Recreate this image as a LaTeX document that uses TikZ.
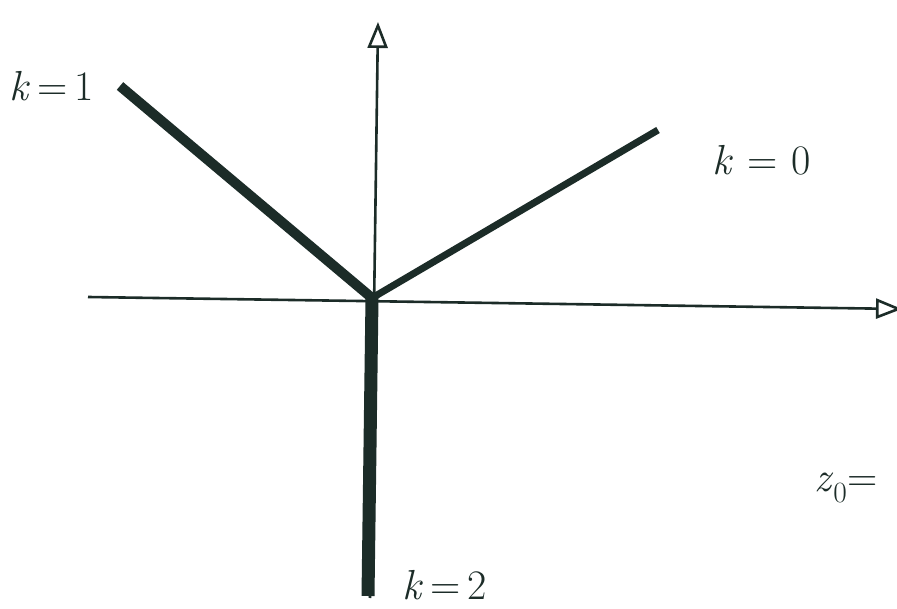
\documentclass[tikz,border=0pt]{standalone}
\usepackage{fontspec}
\usepackage{tikz}
\usetikzlibrary{arrows.meta,positioning,calc}
\definecolor{ink}{RGB}{28,44,40}
\tikzset{
  axis/.style ={line width=2.6pt,draw=ink,-{Triangle[open,length=26pt,width=20pt,line width=2.6pt]}},
  ray/.style  ={line width=9pt,draw=ink,line cap=butt},
  lbl/.style  ={text=ink,inner sep=0pt,font=\fontsize{42}{50}\selectfont},
}
\newcommand{\kk}{\textit{k}}
\begin{document}
\begin{tikzpicture}[x=1pt,y=-1pt]
\useasboundingbox[fill=white] (0,0) rectangle (897,609);
\coordinate (O) at (372,298);
\coordinate (xl) at (88,297);
\coordinate (xr) at (902,309);
\coordinate (yb) at (370,598);
\coordinate (yt) at (378,22);
\coordinate (e1) at (120,86);
\coordinate (e0) at (658,130);
\coordinate (e2) at (368,596);
\draw[axis](xl)--(xr);
\draw[axis](yb)--(yt);
\draw[ray,line width=10pt](O)--(e1);
\draw[ray,line width=7pt](O)--(e0);
\draw[ray,line width=13pt](O)--(e2);
\node[lbl] (k1) at (52,86) {\kk\,=\,1};
\node[lbl] (k0) at (762,160) {\kk\,\,=\,\,0};
\node[lbl] (k2) at (445,585) {\kk\,=\,2};
\node[lbl] (z0) at (846,488) {\textit{z}\textsubscript{0}=};
\end{tikzpicture}
\end{document}
